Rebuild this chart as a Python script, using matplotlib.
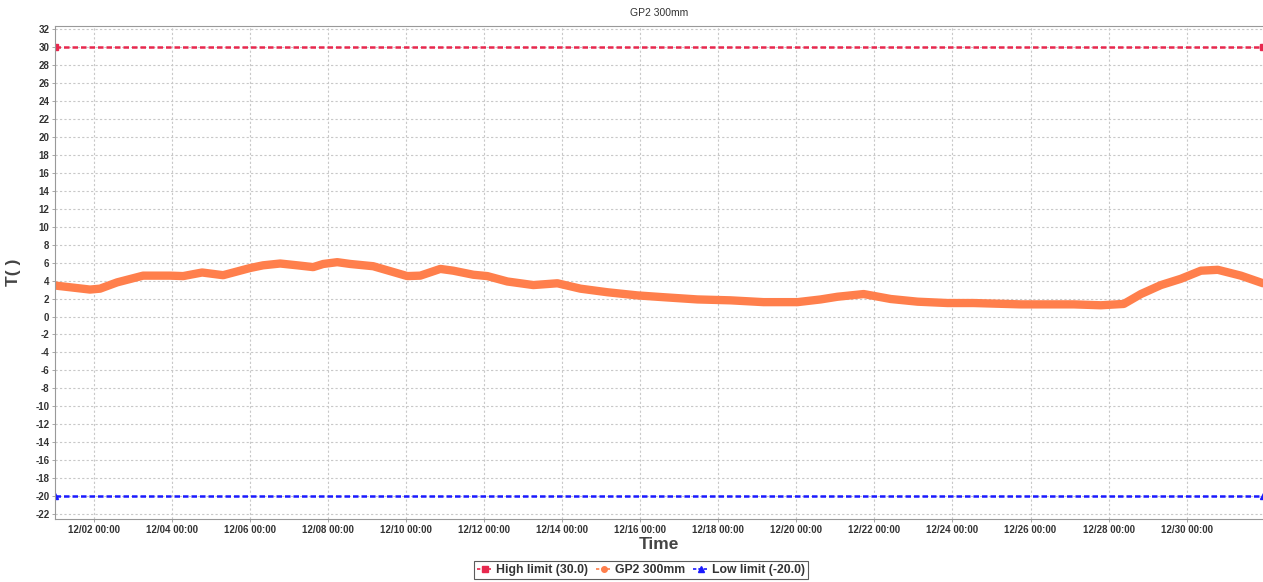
import matplotlib
matplotlib.use("Agg")
import matplotlib.pyplot as plt
import matplotlib.dates as mdates
from matplotlib.lines import Line2D
import numpy as np
import pandas as pd

# hours since 2023-12-01 00:00 and temperature readings
hours = [0, 21.5, 27.7, 38.2, 54.2, 70.8, 78.8, 90.5, 103.4, 120, 128, 138.5,
         149, 158.8, 165, 173.6, 181.6, 195.7, 216.7, 224.7, 237, 245, 257.3,
         265.9, 278.2, 294.2, 309, 323.2, 339.8, 358.2, 374.2, 395.2, 415.5,
         435.8, 456.7, 470.9, 481.3, 497.4, 514, 530.6, 549, 565, 594, 626.6,
         643.3, 657.4, 667.9, 680.2, 692.5, 704.8, 715.2, 729.4, 743]
temps = [3.45, 3.0, 3.1, 3.8, 4.55, 4.55, 4.5, 4.9, 4.6, 5.4, 5.7, 5.9,
         5.7, 5.5, 5.85, 6.05, 5.85, 5.6, 4.5, 4.55, 5.3, 5.1, 4.65,
         4.5, 3.9, 3.5, 3.7, 3.1, 2.7, 2.35, 2.15, 1.9, 1.8,
         1.6, 1.6, 1.9, 2.2, 2.5, 1.95, 1.65, 1.5, 1.5, 1.35, 1.35,
         1.25, 1.4, 2.5, 3.5, 4.2, 5.1, 5.2, 4.55, 3.7]
high_limit = 30.0
low_limit = -20.0

start = pd.Timestamp("2023-12-01 00:00")
times = start + pd.to_timedelta(hours, unit="h")
limit_times = [times[0], times[-1]]

plt.rcParams['font.family'] = ['Liberation Sans', 'DejaVu Sans']
plt.rcParams['axes.unicode_minus'] = False

RED, ORANGE, BLUE = "#e8284e", "#ff7f4c", "#1a1aff"

fig = plt.figure(figsize=(12.63, 5.82), dpi=100)
ax = fig.add_axes([55 / 1263, 1 - 519 / 582, 1 - 55 / 1263, (519 - 26) / 582])

ax.plot(limit_times, [high_limit, high_limit], color=RED, lw=1.8,
        dashes=(2.2, 1.2), marker="s", ms=4)
ax.plot(times, temps, color=ORANGE, lw=6, solid_capstyle="round",
        solid_joinstyle="round")
ax.plot(limit_times, [low_limit, low_limit], color=BLUE, lw=1.8,
        dashes=(2.2, 1.2), marker="^", ms=4)

ax.set_xlim(start, start + pd.Timedelta(hours=743))
ax.set_ylim(-22.55, 32.35)
ax.set_yticks(np.arange(-22, 33, 2))
ax.xaxis.set_major_locator(mdates.DayLocator(bymonthday=range(2, 32, 2)))
ax.xaxis.set_major_formatter(mdates.DateFormatter("%m/%d %H:%M"))

ax.grid(True, color="#c8c8c8", lw=0.8, dashes=(2, 2))
ax.set_axisbelow(True)
for side in ["left", "bottom", "top"]:
    ax.spines[side].set_color("#999999")
ax.spines["right"].set_visible(False)
ax.tick_params(length=2, width=0.6, color="#999999", labelsize=7, pad=2,
               labelcolor="#333333")
for lbl in ax.get_xticklabels() + ax.get_yticklabels():
    lbl.set_fontweight("bold")

ax.set_xlabel("Time", fontsize=12.5, fontweight="bold", color="#444444", labelpad=2)
ax.set_ylabel("T( )", fontsize=12.5, fontweight="bold", color="#444444", labelpad=10)
ax.set_title("GP2 300mm", fontsize=7.5, color="#333333", pad=7)

handles = [
    Line2D([], [], color=RED, lw=1.2, dashes=(2, 1.2), marker="s", ms=4),
    Line2D([], [], color=ORANGE, lw=1.2, dashes=(2, 1.2), marker="o", ms=4),
    Line2D([], [], color=BLUE, lw=1.2, dashes=(2, 1.2), marker="^", ms=4),
]
labels = ["High limit (30.0)", "GP2 300mm", "Low limit (-20.0)"]
leg = fig.legend(handles, labels, loc="center",
                 bbox_to_anchor=(641 / 1263, 1 - 570 / 582), ncol=3,
                 frameon=True, fancybox=False, edgecolor="#333333",
                 handlelength=1.3, handletextpad=0.3, columnspacing=0.6,
                 borderpad=0.25, prop={"weight": "bold", "size": 8.8})
leg.get_frame().set_linewidth(0.8)
for txt in leg.get_texts():
    txt.set_color("#333333")

fig.savefig("out.png", dpi=100)
